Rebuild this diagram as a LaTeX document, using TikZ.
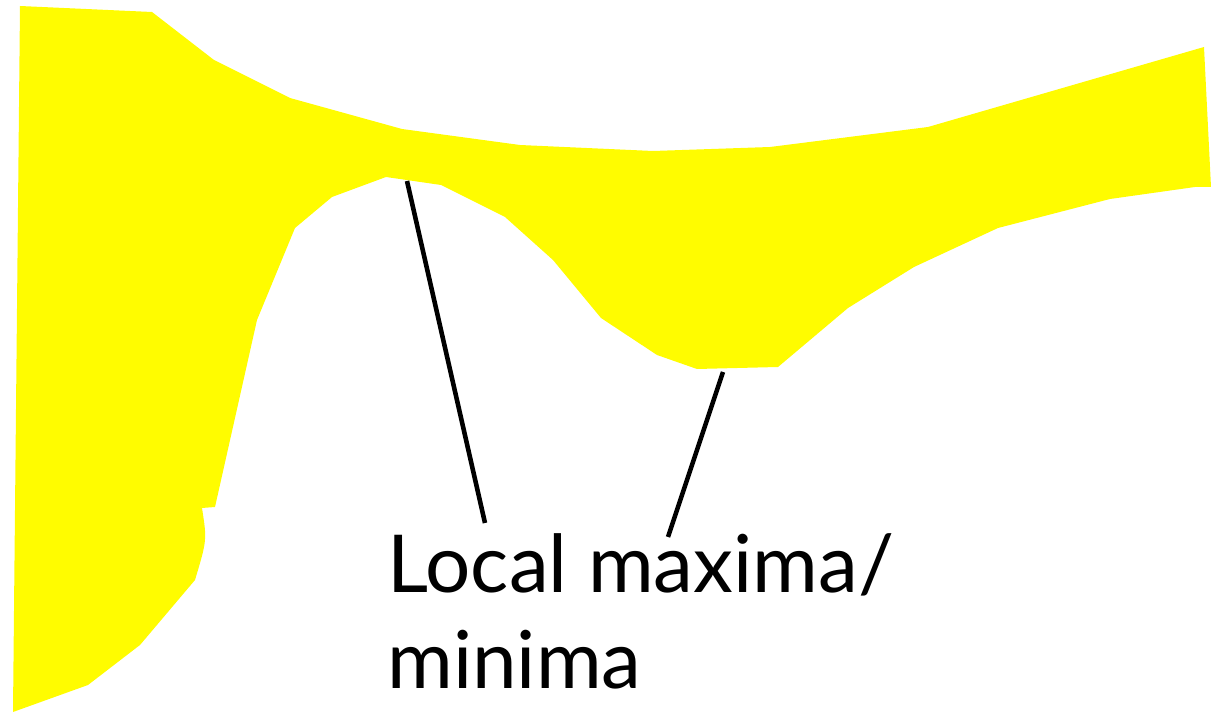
\documentclass[tikz,border=0pt]{standalone}
\usepackage{fontspec}
\setmainfont{Lato}
\usetikzlibrary{positioning}
\definecolor{extYellow}{HTML}{FFFC00}
\tikzset{
  ext region/.style={fill=extYellow, draw=none},
  ext label/.style={
    anchor=north west, align=left, inner sep=0pt,
    font=\fontsize{45.5}{55}\selectfont, text=black,
  },
  ext pointer/.style={draw=black, line width=2.6pt},
}

\begin{document}
\begin{tikzpicture}[x=0.02cm, y=-0.02cm]

\useasboundingbox (0,0) rectangle (1211,712);

% --- REGION ---
\fill[ext region] (20,6) -- (152,12) -- (214,60) -- (290,98) -- (402,129)
  -- (520,145) -- (653,151) -- (770,147) -- (928,127) -- (1204,47)
  -- (1211,187) -- (1195,187) -- (1110,199) -- (998,228) -- (914,267)
  -- (848,308) -- (778,367) -- (697,369) -- (657,355) -- (601,318)
  -- (553,260) -- (505,217) -- (441,185) -- (386,177) -- (332,197)
  -- (295,228) -- (257,320) -- (215,507) -- (202,508)
  .. controls (207,540) .. (195,580) -- (140,645) -- (88,685) -- (13,712)
  -- cycle;

% --- POINTS ON THE EDGE ---
\coordinate (maxpt) at (407,181);
\coordinate (minpt) at (723,372);

% --- LABEL ---
\node[ext label] (extlabel) at (387,533) {Local maxima/\\minima};
\coordinate (maxend) at (485,523);
\coordinate (minend) at (668,537);

% --- POINTERS ---
\draw[ext pointer] (maxpt) -- (maxend);
\draw[ext pointer] (minpt) -- (minend);

\end{tikzpicture}
\end{document}
